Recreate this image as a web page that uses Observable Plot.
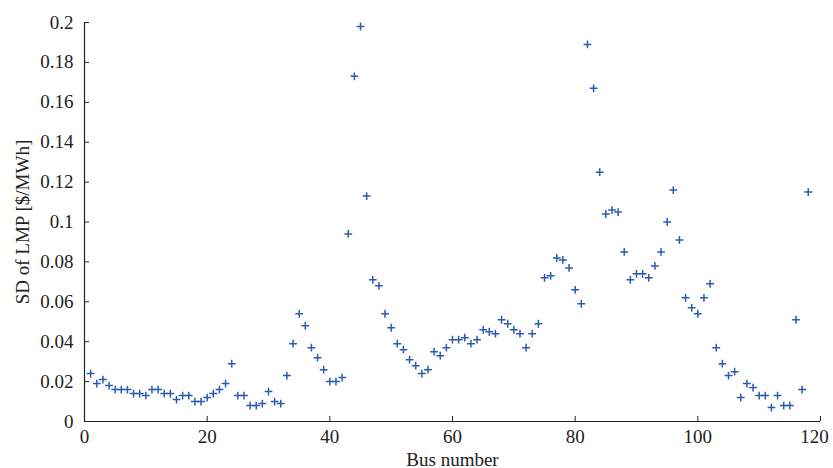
<!DOCTYPE html>
<html>
<head>
<meta charset="utf-8">
<script src="https://cdn.jsdelivr.net/npm/d3@7"></script>
<script src="https://cdn.jsdelivr.net/npm/@observablehq/plot@0.6"></script>
<style>
  html, body { margin: 0; padding: 0; background: #fff; }
  svg, svg text { font-family: "Liberation Serif", "DejaVu Serif", serif !important; }
</style>
</head>
<body>
<div id="chart"></div>
<script>
const sdLmp = [
  0.024, 0.019, 0.021, 0.018, 0.016, 0.016, 0.016, 0.014, 0.014, 0.013,
  0.016, 0.016, 0.014, 0.014, 0.011, 0.013, 0.013, 0.010, 0.010, 0.012,
  0.014, 0.016, 0.019, 0.029, 0.013, 0.013, 0.008, 0.008, 0.009, 0.015,
  0.010, 0.009, 0.023, 0.039, 0.054, 0.048, 0.037, 0.032, 0.026, 0.020,
  0.020, 0.022, 0.094, 0.173, 0.198, 0.113, 0.071, 0.068, 0.054, 0.047,
  0.039, 0.036, 0.031, 0.028, 0.024, 0.026, 0.035, 0.033, 0.037, 0.041,
  0.041, 0.042, 0.039, 0.041, 0.046, 0.045, 0.044, 0.051, 0.049, 0.046,
  0.044, 0.037, 0.044, 0.049, 0.072, 0.073, 0.082, 0.081, 0.077, 0.066,
  0.059, 0.189, 0.167, 0.125, 0.104, 0.106, 0.105, 0.085, 0.071, 0.074,
  0.074, 0.072, 0.078, 0.085, 0.100, 0.116, 0.091, 0.062, 0.057, 0.054,
  0.062, 0.069, 0.037, 0.029, 0.023, 0.025, 0.012, 0.019, 0.017, 0.013,
  0.013, 0.007, 0.013, 0.008, 0.008, 0.051, 0.016, 0.115
];
const busNumbers = sdLmp.map((_, i) => i + 1);
const xTicks = [0, 20, 40, 60, 80, 100, 120];
const yTicks = [0, 0.02, 0.04, 0.06, 0.08, 0.1, 0.12, 0.14, 0.16, 0.18, 0.2];
const xLabel = "Bus number";
const yLabel = "SD of LMP [$/MWh]";

const data = busNumbers.map((b, i) => ({bus: b, sd: sdLmp[i]}));

const plusSymbol = {
  draw(context, size) {
    const r = Math.sqrt(size / Math.PI);
    context.moveTo(-r, 0); context.lineTo(r, 0);
    context.moveTo(0, -r); context.lineTo(0, r);
  }
};

const fmt = d => String(+d.toFixed(2));
const xMax = xTicks[xTicks.length - 1];

const chart = Plot.plot({
  width: 833,
  height: 468,
  marginLeft: 84,
  marginRight: 13,
  marginTop: 22,
  marginBottom: 47,
  style: {background: "#fff", color: "#222"},
  x: {domain: [0, 120]},
  y: {domain: [0, 0.2]},
  marks: [
    Plot.axisY({ticks: yTicks, tickFormat: fmt, tickSize: 0, tickPadding: 11, fontSize: 19,
      label: yLabel, labelAnchor: "center", labelArrow: "none", labelOffset: 69}),
    Plot.axisX({ticks: xTicks.slice(0, -1), tickFormat: fmt, tickSize: 0, tickPadding: 8, fontSize: 19,
      label: xLabel, labelAnchor: "center", labelArrow: "none", labelOffset: 44}),
    Plot.axisX({ticks: [xMax], tickFormat: fmt, tickSize: 0, tickPadding: 8, fontSize: 19, dx: -6, label: null}),
    Plot.axisY({ticks: yTicks, tickFormat: () => "", tickSize: 5, dx: 5, label: null, stroke: "#222"}),
    Plot.axisX({ticks: xTicks, tickFormat: () => "", tickSize: 5, dy: -5, label: null, stroke: "#222"}),
    Plot.ruleX([0], {stroke: "#222", strokeWidth: 1.2}),
    Plot.ruleY([0], {stroke: "#222", strokeWidth: 1.2}),
    Plot.dot(data, {x: "bus", y: "sd", symbol: plusSymbol, r: 3.9, stroke: "#2a5cae", strokeWidth: 1.5, fill: "none"})
  ]
});
document.getElementById("chart").appendChild(chart);
</script>
</body>
</html>
